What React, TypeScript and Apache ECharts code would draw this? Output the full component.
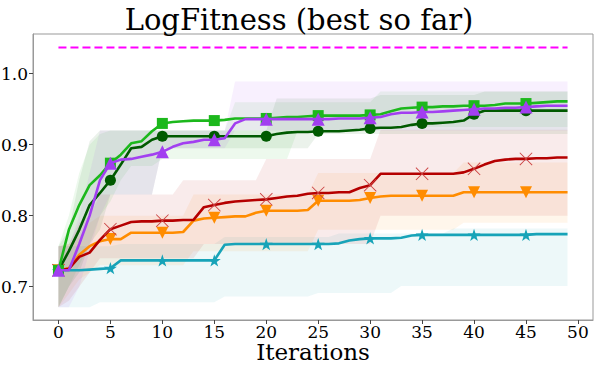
import React, { useEffect, useRef } from "react";
import * as echarts from "echarts";

const iterations: number[] = Array.from({ length: 50 }, (_, i) => i);
const xTicks = [0, 5, 10, 15, 20, 25, 30, 35, 40, 45, 50];
const yTicks = [0.7, 0.8, 0.9, 1.0];
const targetValue = 1.037;

const brightGreen = [0.723, 0.78, 0.815, 0.843, 0.857, 0.874, 0.886, 0.902, 0.905, 0.919,
  0.93, 0.932, 0.933, 0.934, 0.934, 0.934, 0.935, 0.937, 0.937, 0.937,
  0.937, 0.938, 0.939, 0.939, 0.94, 0.941, 0.941, 0.941, 0.941, 0.941,
  0.942, 0.943, 0.947, 0.951, 0.952, 0.953, 0.953, 0.954, 0.954, 0.955,
  0.955, 0.955, 0.956, 0.958, 0.958, 0.958, 0.959, 0.96, 0.961, 0.961];
const darkGreen = [0.723, 0.75, 0.78, 0.815, 0.832, 0.85, 0.872, 0.895, 0.897, 0.907,
  0.912, 0.912, 0.912, 0.912, 0.912, 0.912, 0.912, 0.912, 0.912, 0.912,
  0.912, 0.915, 0.917, 0.918, 0.918, 0.919, 0.919, 0.919, 0.92, 0.921,
  0.923, 0.924, 0.924, 0.925, 0.928, 0.93, 0.93, 0.931, 0.932, 0.934,
  0.943, 0.948, 0.948, 0.948, 0.948, 0.948, 0.948, 0.948, 0.948, 0.948];
const purple = [0.723, 0.723, 0.76, 0.8, 0.85, 0.874, 0.879, 0.88, 0.883, 0.886,
  0.89, 0.897, 0.902, 0.904, 0.907, 0.907, 0.909, 0.93, 0.936, 0.936,
  0.936, 0.936, 0.936, 0.936, 0.936, 0.936, 0.936, 0.937, 0.937, 0.937,
  0.938, 0.939, 0.943, 0.945, 0.945, 0.946, 0.946, 0.947, 0.948, 0.949,
  0.95, 0.951, 0.951, 0.952, 0.952, 0.953, 0.954, 0.955, 0.955, 0.955];
const darkRed = [0.723, 0.725, 0.742, 0.748, 0.766, 0.781, 0.786, 0.791, 0.792, 0.792,
  0.793, 0.793, 0.794, 0.794, 0.812, 0.815, 0.818, 0.82, 0.821, 0.822,
  0.823, 0.825, 0.827, 0.828, 0.831, 0.832, 0.832, 0.833, 0.833, 0.839,
  0.843, 0.859, 0.859, 0.859, 0.859, 0.859, 0.859, 0.859, 0.859, 0.861,
  0.866, 0.872, 0.877, 0.879, 0.88, 0.88, 0.881, 0.881, 0.882, 0.882];
const orange = [0.723, 0.726, 0.745, 0.757, 0.764, 0.767, 0.767, 0.776, 0.776, 0.776,
  0.776, 0.776, 0.777, 0.793, 0.796, 0.797, 0.798, 0.799, 0.799, 0.804,
  0.807, 0.807, 0.807, 0.807, 0.808, 0.821, 0.821, 0.821, 0.821, 0.822,
  0.825, 0.827, 0.828, 0.828, 0.828, 0.828, 0.828, 0.828, 0.828, 0.833,
  0.833, 0.833, 0.833, 0.833, 0.833, 0.833, 0.833, 0.833, 0.833, 0.833];
const teal = [0.723, 0.723, 0.723, 0.724, 0.725, 0.726, 0.737, 0.737, 0.737, 0.737,
  0.737, 0.737, 0.737, 0.737, 0.737, 0.737, 0.759, 0.76, 0.76, 0.76,
  0.76, 0.76, 0.76, 0.76, 0.76, 0.76, 0.76, 0.761, 0.765, 0.767,
  0.768, 0.768, 0.768, 0.769, 0.772, 0.773, 0.773, 0.773, 0.773, 0.773,
  0.773, 0.773, 0.773, 0.773, 0.773, 0.773, 0.774, 0.774, 0.774, 0.774];

// band envelopes (upper / lower)
const brightGreenUpper = [0.757, 0.8, 0.86, 0.9, 0.915, 0.92, 0.92, 0.92, 0.92, 0.92,
  0.92, 0.92, 0.92, 0.92, 0.92, 0.92, 0.92, 0.96, 0.96, 0.96,
  0.96, 0.96, 0.96, 0.96, 0.96, 0.96, 0.96, 0.96, 0.96, 0.96,
  0.96, 0.975, 0.975, 0.975, 0.975, 0.975, 0.975, 0.975, 0.975, 0.975,
  0.975, 0.975, 0.975, 0.975, 0.975, 0.975, 0.975, 0.975, 0.975, 0.975];
const brightGreenLower = [0.671, 0.7, 0.73, 0.76, 0.8, 0.82, 0.85, 0.87, 0.87, 0.87,
  0.88, 0.88, 0.88, 0.88, 0.88, 0.88, 0.88, 0.88, 0.88, 0.88,
  0.88, 0.88, 0.88, 0.919, 0.919, 0.919, 0.919, 0.919, 0.919, 0.919,
  0.919, 0.925, 0.925, 0.925, 0.925, 0.925, 0.925, 0.925, 0.925, 0.925,
  0.925, 0.925, 0.925, 0.925, 0.925, 0.925, 0.925, 0.925, 0.925, 0.925];
const darkGreenUpper = [0.757, 0.78, 0.85, 0.905, 0.92, 0.92, 0.92, 0.92, 0.92, 0.92,
  0.92, 0.92, 0.92, 0.92, 0.92, 0.92, 0.92, 0.92, 0.92, 0.92,
  0.92, 0.965, 0.965, 0.965, 0.965, 0.965, 0.965, 0.965, 0.965, 0.965,
  0.965, 0.97, 0.97, 0.97, 0.97, 0.97, 0.97, 0.97, 0.97, 0.97,
  0.97, 0.975, 0.975, 0.975, 0.975, 0.975, 0.975, 0.975, 0.975, 0.975];
const darkGreenLower = [0.671, 0.7, 0.72, 0.76, 0.78, 0.83, 0.83, 0.83, 0.83, 0.83,
  0.895, 0.895, 0.895, 0.895, 0.895, 0.895, 0.895, 0.895, 0.895, 0.895,
  0.895, 0.895, 0.895, 0.895, 0.895, 0.915, 0.915, 0.915, 0.915, 0.915,
  0.915, 0.915, 0.915, 0.915, 0.915, 0.915, 0.915, 0.915, 0.915, 0.915,
  0.915, 0.915, 0.915, 0.915, 0.915, 0.915, 0.915, 0.915, 0.915, 0.915];
const purpleUpper = [0.757, 0.757, 0.8, 0.86, 0.92, 0.92, 0.92, 0.92, 0.92, 0.92,
  0.92, 0.92, 0.92, 0.92, 0.92, 0.92, 0.92, 0.989, 0.989, 0.989,
  0.989, 0.989, 0.989, 0.989, 0.989, 0.989, 0.989, 0.989, 0.989, 0.989,
  0.989, 0.989, 0.989, 0.989, 0.989, 0.989, 0.989, 0.989, 0.989, 0.989,
  0.989, 0.989, 0.989, 0.989, 0.989, 0.989, 0.989, 0.989, 0.989, 0.989];
const purpleLower = [0.671, 0.671, 0.7, 0.75, 0.8, 0.83, 0.83, 0.83, 0.83, 0.83,
  0.895, 0.895, 0.895, 0.895, 0.895, 0.895, 0.895, 0.92, 0.92, 0.92,
  0.92, 0.92, 0.92, 0.92, 0.92, 0.92, 0.92, 0.92, 0.92, 0.92,
  0.92, 0.92, 0.92, 0.92, 0.92, 0.92, 0.92, 0.92, 0.92, 0.92,
  0.92, 0.92, 0.92, 0.92, 0.92, 0.92, 0.92, 0.92, 0.92, 0.92];
const darkRedUpper = [0.757, 0.76, 0.79, 0.8, 0.83, 0.83, 0.83, 0.83, 0.83, 0.83,
  0.83, 0.83, 0.85, 0.85, 0.85, 0.85, 0.85, 0.85, 0.85, 0.85,
  0.88, 0.88, 0.88, 0.88, 0.88, 0.88, 0.88, 0.88, 0.88, 0.88,
  0.88, 0.921, 0.921, 0.921, 0.921, 0.921, 0.921, 0.921, 0.921, 0.921,
  0.921, 0.921, 0.921, 0.921, 0.921, 0.921, 0.921, 0.921, 0.921, 0.921];
const darkRedLower = [0.671, 0.68, 0.7, 0.72, 0.74, 0.74, 0.74, 0.74, 0.74, 0.74,
  0.74, 0.74, 0.74, 0.74, 0.76, 0.76, 0.76, 0.76, 0.76, 0.76,
  0.76, 0.76, 0.76, 0.76, 0.76, 0.76, 0.76, 0.76, 0.76, 0.76,
  0.76, 0.8, 0.8, 0.8, 0.8, 0.8, 0.8, 0.8, 0.8, 0.8,
  0.8, 0.8, 0.8, 0.8, 0.8, 0.8, 0.8, 0.8, 0.8, 0.8];
const orangeUpper = [0.757, 0.76, 0.77, 0.79, 0.8, 0.8, 0.8, 0.8, 0.8, 0.8,
  0.8, 0.8, 0.8, 0.83, 0.83, 0.83, 0.83, 0.83, 0.83, 0.83,
  0.83, 0.83, 0.83, 0.83, 0.83, 0.86, 0.86, 0.86, 0.86, 0.86,
  0.86, 0.86, 0.86, 0.86, 0.86, 0.86, 0.86, 0.86, 0.86, 0.875,
  0.875, 0.875, 0.875, 0.875, 0.875, 0.875, 0.875, 0.875, 0.875, 0.875];
const orangeLower = [0.671, 0.69, 0.71, 0.72, 0.73, 0.73, 0.73, 0.73, 0.73, 0.73,
  0.73, 0.73, 0.73, 0.75, 0.75, 0.75, 0.75, 0.75, 0.75, 0.75,
  0.75, 0.75, 0.75, 0.75, 0.75, 0.78, 0.78, 0.78, 0.78, 0.78,
  0.78, 0.78, 0.78, 0.78, 0.78, 0.78, 0.78, 0.78, 0.78, 0.79,
  0.79, 0.79, 0.79, 0.79, 0.79, 0.79, 0.79, 0.79, 0.79, 0.79];
const tealUpper = [0.757, 0.757, 0.757, 0.757, 0.757, 0.757, 0.76, 0.76, 0.76, 0.76,
  0.76, 0.76, 0.76, 0.76, 0.76, 0.76, 0.77, 0.77, 0.77, 0.77,
  0.77, 0.77, 0.77, 0.77, 0.77, 0.77, 0.77, 0.775, 0.775, 0.775,
  0.775, 0.775, 0.775, 0.775, 0.775, 0.775, 0.775, 0.775, 0.782, 0.782,
  0.782, 0.782, 0.782, 0.782, 0.782, 0.782, 0.782, 0.782, 0.782, 0.782];
const tealLower = [0.671, 0.671, 0.671, 0.671, 0.678, 0.678, 0.678, 0.678, 0.678, 0.678,
  0.678, 0.678, 0.678, 0.678, 0.678, 0.678, 0.686, 0.686, 0.686, 0.686,
  0.686, 0.686, 0.686, 0.686, 0.686, 0.691, 0.691, 0.691, 0.691, 0.691,
  0.691, 0.691, 0.691, 0.701, 0.701, 0.701, 0.701, 0.701, 0.701, 0.701,
  0.701, 0.701, 0.701, 0.701, 0.701, 0.701, 0.701, 0.701, 0.701, 0.701];

const STAR = "path://M50,0 L61,35 L98,35 L68,57 L79,91 L50,70 L21,91 L32,57 L2,35 L39,35 Z";
const CROSS = "path://M0,1 L1,0 L10,9 L19,0 L20,1 L11,10 L20,19 L19,20 L10,11 L1,20 L0,19 L9,10 Z";

type S = { name: string; color: string; markColor?: string; values: number[]; upper: number[]; lower: number[]; symbol: string; size: number; rotate?: number };

const seriesDefs: S[] = [
  { name: "teal", color: "#17a3b8", values: teal, upper: tealUpper, lower: tealLower, symbol: STAR, size: 13 },
  { name: "orange", color: "#ff8c00", values: orange, upper: orangeUpper, lower: orangeLower, symbol: "triangle", size: 12, rotate: 180 },
  { name: "darkred", color: "#b50000", markColor: "#cc4444", values: darkRed, upper: darkRedUpper, lower: darkRedLower, symbol: CROSS, size: 13 },
  { name: "darkgreen", color: "#005a00", values: darkGreen, upper: darkGreenUpper, lower: darkGreenLower, symbol: "circle", size: 11 },
  { name: "green", color: "#1cb81c", values: brightGreen, upper: brightGreenUpper, lower: brightGreenLower, symbol: "rect", size: 11 },
  { name: "purple", color: "#a23ff0", values: purple, upper: purpleUpper, lower: purpleLower, symbol: "triangle", size: 13 },
];

const FONT = "DejaVu Serif";

export default function App() {
  const ref = useRef<HTMLDivElement>(null);
  useEffect(() => {
    if (!ref.current) return;
    const chart = echarts.init(ref.current, undefined, { renderer: "svg" });
    const bandSeries = seriesDefs.map((s) => ({
      type: "custom",
      name: s.name + "-band",
      silent: true,
      clip: true,
      z: 1,
      data: [[0, 0.8]],
      renderItem: (_p: any, api: any) => {
        const up = iterations.map((i) => api.coord([i, s.upper[i]]));
        const lo = iterations.map((i) => api.coord([i, s.lower[i]])).reverse();
        return {
          type: "polygon",
          shape: { points: up.concat(lo) },
          style: { fill: s.color, opacity: 0.08 },
        };
      },
    }));
    const lineSeries = seriesDefs.map((s, k) => ({
      type: "line",
      name: s.name,
      z: 3 + k,
      showAllSymbol: true,
      symbolKeepAspect: true,
      lineStyle: { color: s.color, width: 2.6 },
      itemStyle: { color: s.markColor ?? s.color },
      data: iterations.map((i) => ({
        value: [i, s.values[i]],
        symbol: i % 5 === 0 ? s.symbol : "none",
        symbolSize: s.size,
        symbolRotate: s.rotate ?? 0,
      })),
    }));
    const target = {
      type: "line",
      name: "target",
      z: 10,
      showSymbol: false,
      lineStyle: { color: "#ff00ff", width: 2, type: [8, 4] },
      data: [[iterations[0], targetValue], [iterations[iterations.length - 1], targetValue]],
    };
    chart.setOption({
      animation: false,
      title: {
        text: "LogFitness (best so far)",
        left: "center",
        top: 0,
        textStyle: { fontFamily: FONT, fontSize: 29, fontWeight: "normal", color: "#000" },
      },
      grid: {
        left: 33, right: 5, top: 34, bottom: 47,
        outerBoundsMode: "none",
        containLabel: false,
        show: true, borderColor: "#999", borderWidth: 1,
      },
      xAxis: {
        type: "value",
        min: -2.45,
        max: 51.45,
        name: "Iterations",
        nameLocation: "middle",
        nameGap: 22,
        nameMoveOverlap: false,
        nameTextStyle: { fontFamily: FONT, fontSize: 23, lineHeight: 20, color: "#000" },
        axisLine: { show: true, onZero: false, lineStyle: { color: "#999" } },
        axisTick: { show: true, length: 4, lineStyle: { color: "#444" }, customValues: xTicks },
        axisLabel: { fontFamily: FONT, fontSize: 17, lineHeight: 15, color: "#000", margin: 4, customValues: xTicks },
        splitLine: { show: false },
      },
      yAxis: {
        type: "value",
        min: 0.653,
        max: 1.056,
        axisLine: { show: true, onZero: false, lineStyle: { color: "#999" } },
        axisTick: { show: true, length: 4, lineStyle: { color: "#444" }, customValues: yTicks },
        axisLabel: {
          fontFamily: FONT,
          fontSize: 17,
          color: "#000",
          margin: 5,
          customValues: yTicks,
          formatter: (v: number) => v.toFixed(1),
        },
        splitLine: { show: false },
      },
      series: [...bandSeries, ...lineSeries, target],
    });
    return () => chart.dispose();
  }, []);
  return <div ref={ref} style={{ width: 598, height: 367, position: "absolute", left: 0, top: 0 }} />;
}
